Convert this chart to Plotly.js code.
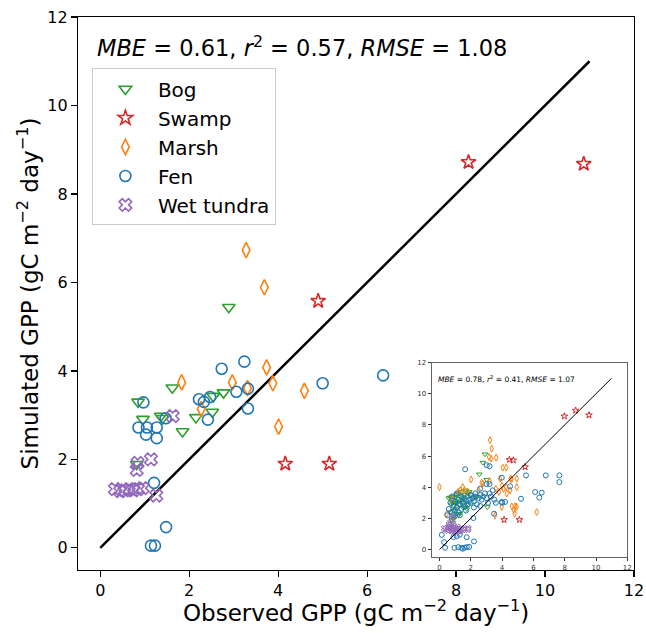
<!DOCTYPE html>
<html><head><meta charset="utf-8">
<script src="https://cdn.plot.ly/plotly-3.0.1.min.js"></script>
<style>html,body{margin:0;padding:0;background:#fff;}#chart{width:646px;height:633px;}</style>
</head><body><div id="chart"></div>
<script>
// ---------- main panel data ----------
const bogX = [2.89,1.62,0.85,0.96,1.36,1.40,1.85,2.15,2.54,2.77,2.52,0.82];
const bogY = [5.44,3.62,3.30,2.91,2.98,2.93,2.63,2.95,3.43,3.51,3.07,1.89];
const swampX = [8.28,10.87,4.90,4.16,5.15];
const swampY = [8.72,8.68,5.58,1.90,1.90];
const marshX = [3.28,3.69,3.74,2.97,3.88,3.31,4.59,2.27,4.01,1.83];
const marshY = [6.73,5.89,4.08,3.74,3.72,3.61,3.55,3.14,2.74,3.74];
const fenX = [0.97,0.86,1.05,1.27,1.03,1.27,1.47,1.21,1.48,1.14,1.23,2.22,2.33,2.47,2.42,2.73,3.06,3.24,3.32,3.32,5.00,6.36];
const fenY = [3.29,2.72,2.72,2.72,2.56,2.48,2.93,1.47,0.47,0.05,0.05,3.36,3.30,3.41,2.90,4.05,3.53,4.21,3.60,3.15,3.72,3.90];
const tundraX = [1.63,1.14,0.84,0.82,1.26,0.33,0.45,0.55,0.65,0.75,0.85,0.95];
const tundraY = [2.98,2.00,1.92,1.76,1.18,1.33,1.28,1.30,1.33,1.30,1.33,1.35];
const oneToOne = [0, 11];

// ---------- inset panel data ----------
const iBogX = [0.6,0.7,0.8,0.9,1.0,1.1,1.2,1.3,1.4,1.5,1.6,1.7,1.8,1.9,2.0,0.75,0.85,0.95,1.05,1.15,1.25,1.35,1.45,1.55,1.65,1.75,1.85,0.7,0.9,1.1,1.3,1.5,0.8,1.0,0.85,2.91,2.77,2.55,3.02,3.06,2.2,2.4,1.2,0.9];
const iBogY = [3.3,3.35,3.2,3.4,3.3,3.5,3.6,3.4,3.7,3.3,3.5,3.8,3.6,3.7,3.5,2.9,3.0,2.8,3.1,3.0,2.9,3.1,3.2,3.0,2.7,2.6,2.9,2.4,2.5,2.6,2.3,2.7,1.9,2.1,1.7,6.12,5.58,4.83,4.48,2.73,3.3,3.4,2.2,2.0];
const iSwampX = [7.98,8.70,9.55,4.47,4.72,5.47,4.13,5.11];
const iSwampY = [8.56,8.93,8.63,5.77,5.73,5.30,1.91,1.91];
const iMarshX = [0.0,3.23,3.34,3.17,3.30,3.62,4.04,4.26,2.02,2.77,4.55,4.94,4.94,4.26,4.51,3.87,4.62,4.83,4.93,4.75,4.80,6.21,3.55,3.98,1.49,1.32,0.47,1.60,1.80,2.50,2.70,3.60,3.80,4.10,4.30,0.80,1.20,3.20,4.60,4.00];
const iMarshY = [4.01,7.02,6.48,5.94,5.84,5.90,5.26,5.26,4.50,4.23,4.55,4.55,4.01,4.01,3.80,4.55,2.77,2.77,2.75,2.55,2.30,2.40,2.19,2.73,4.01,3.80,2.30,3.80,3.70,3.80,4.30,3.90,3.70,3.90,3.60,3.20,3.70,4.40,4.50,4.10];
const iFenX = [0.6,0.7,0.8,0.9,1.0,1.0,1.1,1.2,1.2,1.3,1.4,1.4,1.5,1.6,1.6,1.7,1.8,1.8,1.9,2.0,2.0,2.1,2.2,2.3,2.4,2.5,2.6,2.7,2.8,2.9,3.0,3.1,3.2,3.3,3.4,3.5,3.6,0.5,0.9,1.3,1.7,2.2,2.6,3.0,3.2,2.6,2.3,1.1,0.8,1.64,3.02,3.2,3.98,5.53,6.79,7.66,7.66,6.11,6.53,6.38,5.21,4.51,4.19,3.98,3.49,2.17,0.15,0.3,0.36,0.96,1.2,1.4,1.5,1.6,1.75,1.9,1.74,2.21,1.1,1.3,0.9,4.0];
const iFenY = [2.6,3.0,2.4,2.8,2.5,3.1,2.7,2.4,3.2,2.9,2.6,3.4,3.0,2.8,3.3,3.1,2.9,3.4,3.2,3.0,3.5,3.3,3.1,3.4,2.9,3.3,3.5,3.2,3.4,3.6,3.3,3.0,3.6,3.4,3.8,3.2,3.0,2.2,2.2,2.2,2.5,2.7,2.8,4.2,4.2,3.9,3.6,3.6,3.4,5.15,5.41,5.35,4.61,4.76,4.76,4.76,4.33,3.69,3.65,3.33,3.26,4.06,3.05,3.05,2.3,2.02,0.94,0.47,0.11,0.11,0.15,0.1,0.05,0.12,0.15,0.17,0.79,0.52,0.85,0.95,0.8,3.0];
const iTundraX = [0.3,0.4,0.5,0.55,0.6,0.7,0.75,0.8,0.85,0.9,0.95,1.0,1.05,1.1,1.15,1.2,1.25,1.3,1.4,1.5,1.6,0.65,0.9,1.1,1.81,1.85,0.7,0.8,0.9,0.6];
const iTundraY = [1.35,1.3,1.4,1.2,1.35,1.25,1.4,1.3,1.15,1.35,1.25,1.4,1.2,1.3,1.45,1.25,1.35,1.15,1.3,1.25,1.35,1.5,1.55,1.1,1.27,1.35,1.75,1.95,2.1,1.6];

const groups = [
  {name:'Bog', x:bogX, y:bogY, ix:iBogX, iy:iBogY, sym:'triangle-down-open', c:'#2ca02c'},
  {name:'Swamp', x:swampX, y:swampY, ix:iSwampX, iy:iSwampY, sym:'star-open', c:'#d62728'},
  {name:'Marsh', x:marshX, y:marshY, ix:iMarshX, iy:iMarshY, sym:'diamond-tall-open', c:'#ff7f0e'},
  {name:'Fen', x:fenX, y:fenY, ix:iFenX, iy:iFenY, sym:'circle-open', c:'#1f77b4'},
  {name:'Wet tundra', x:tundraX, y:tundraY, ix:iTundraX, iy:iTundraY, sym:'x-open', c:'#9467bd'}
];

const traces = [];
groups.forEach(g => {
  traces.push({type:'scatter', mode:'markers', x:g.ix, y:g.iy, xaxis:'x2', yaxis:'y2', showlegend:false,
    marker:{symbol:g.sym, size:5, color:g.c, line:{color:g.c, width:1}}, hoverinfo:'skip'});
});
traces.push({type:'scatter', mode:'lines', x:oneToOne, y:oneToOne, xaxis:'x2', yaxis:'y2', showlegend:false,
  line:{color:'#000', width:1}, hoverinfo:'skip'});
traces.push({type:'scatter', mode:'lines', x:oneToOne, y:oneToOne, showlegend:false,
  line:{color:'#000', width:2.5}, hoverinfo:'skip'});
groups.forEach(g => {
  traces.push({type:'scatter', mode:'markers', name:g.name, x:g.x, y:g.y,
    marker:{symbol:g.sym, size:11, color:g.c, line:{color:g.c, width:1.6}}});
});

const F = 'DejaVu Sans, sans-serif';
const ticks = [0,2,4,6,8,10,12];
const layout = {
  width:646, height:633,
  margin:{l:78, r:12, t:17, b:63},
  paper_bgcolor:'#fff', plot_bgcolor:'#fff',
  font:{family:F, color:'#000'},
  showlegend:true,
  hovermode:false,
  xaxis:{range:[-0.5,12], tickvals:ticks, ticktext:ticks.map(String), showgrid:false, zeroline:false,
    showline:true, mirror:true, linecolor:'#000', linewidth:1.2, ticks:'outside', ticklen:6, tickwidth:1.2, tickcolor:'#000',
    tickfont:{size:16, family:F}},
  yaxis:{range:[-0.5,12], tickvals:ticks, ticktext:ticks.map(String), showgrid:false, zeroline:false,
    showline:true, mirror:true, linecolor:'#000', linewidth:1.2, ticks:'outside', ticklen:6, tickwidth:1.2, tickcolor:'#000',
    tickfont:{size:16, family:F}},
  xaxis2:{domain:[0.636,0.988], anchor:'y2', range:[-0.5,12], tickvals:ticks, ticktext:ticks.map(String),
    showgrid:false, zeroline:false, showline:true, mirror:true, linecolor:'#666', linewidth:1,
    ticks:'outside', ticklen:3, tickwidth:1, tickcolor:'#333', tickfont:{size:7, family:F, color:'#333'}},
  yaxis2:{domain:[0.023,0.375], anchor:'x2', range:[-0.5,12], tickvals:ticks, ticktext:ticks.map(String),
    showgrid:false, zeroline:false, showline:true, mirror:true, linecolor:'#666', linewidth:1,
    ticks:'outside', ticklen:3, tickwidth:1, tickcolor:'#333', tickfont:{size:7, family:F, color:'#333'}},
  legend:{x:0.025, y:0.907, xanchor:'left', yanchor:'top', bgcolor:'#fff', bordercolor:'#cccccc', borderwidth:1,
    font:{size:20, family:F}, itemwidth:55, tracegroupgap:0},
  shapes:[{type:'rect', xref:'paper', yref:'paper', x0:0.60, x1:0.992, y0:-0.012, y1:0.385, fillcolor:'#fff', line:{width:0}, layer:'below'}],
  annotations:[
    {xref:'paper', yref:'paper', x:0.5, y:-0.074, xanchor:'center', yanchor:'middle', showarrow:false,
     text:'Observed GPP (gC m<sup>−2</sup> day<sup>−1</sup>)', font:{size:23, family:F}},
    {xref:'paper', yref:'paper', x:-0.09, y:0.5, xanchor:'center', yanchor:'middle', showarrow:false, textangle:-90,
     text:'Simulated GPP (gC m<sup>−2</sup> day<sup>−1</sup>)', font:{size:23, family:F}},
    {xref:'paper', yref:'paper', x:0.03, y:0.946, xanchor:'left', yanchor:'middle', showarrow:false,
     text:'<i>MBE</i> = 0.61, <i>r</i><sup>2</sup> = 0.57, <i>RMSE</i> = 1.08', font:{size:22.5, family:F}},
    {xref:'x2 domain', yref:'y2 domain', x:0.02, y:0.95, xanchor:'left', yanchor:'top', showarrow:false,
     text:'<i>MBE</i> = 0.78, <i>r</i><sup>2</sup> = 0.41, <i>RMSE</i> = 1.07', font:{size:7.5, family:F}}
  ]
};
Plotly.newPlot('chart', traces, layout, {displayModeBar:false, staticPlot:true});
</script></body></html>
